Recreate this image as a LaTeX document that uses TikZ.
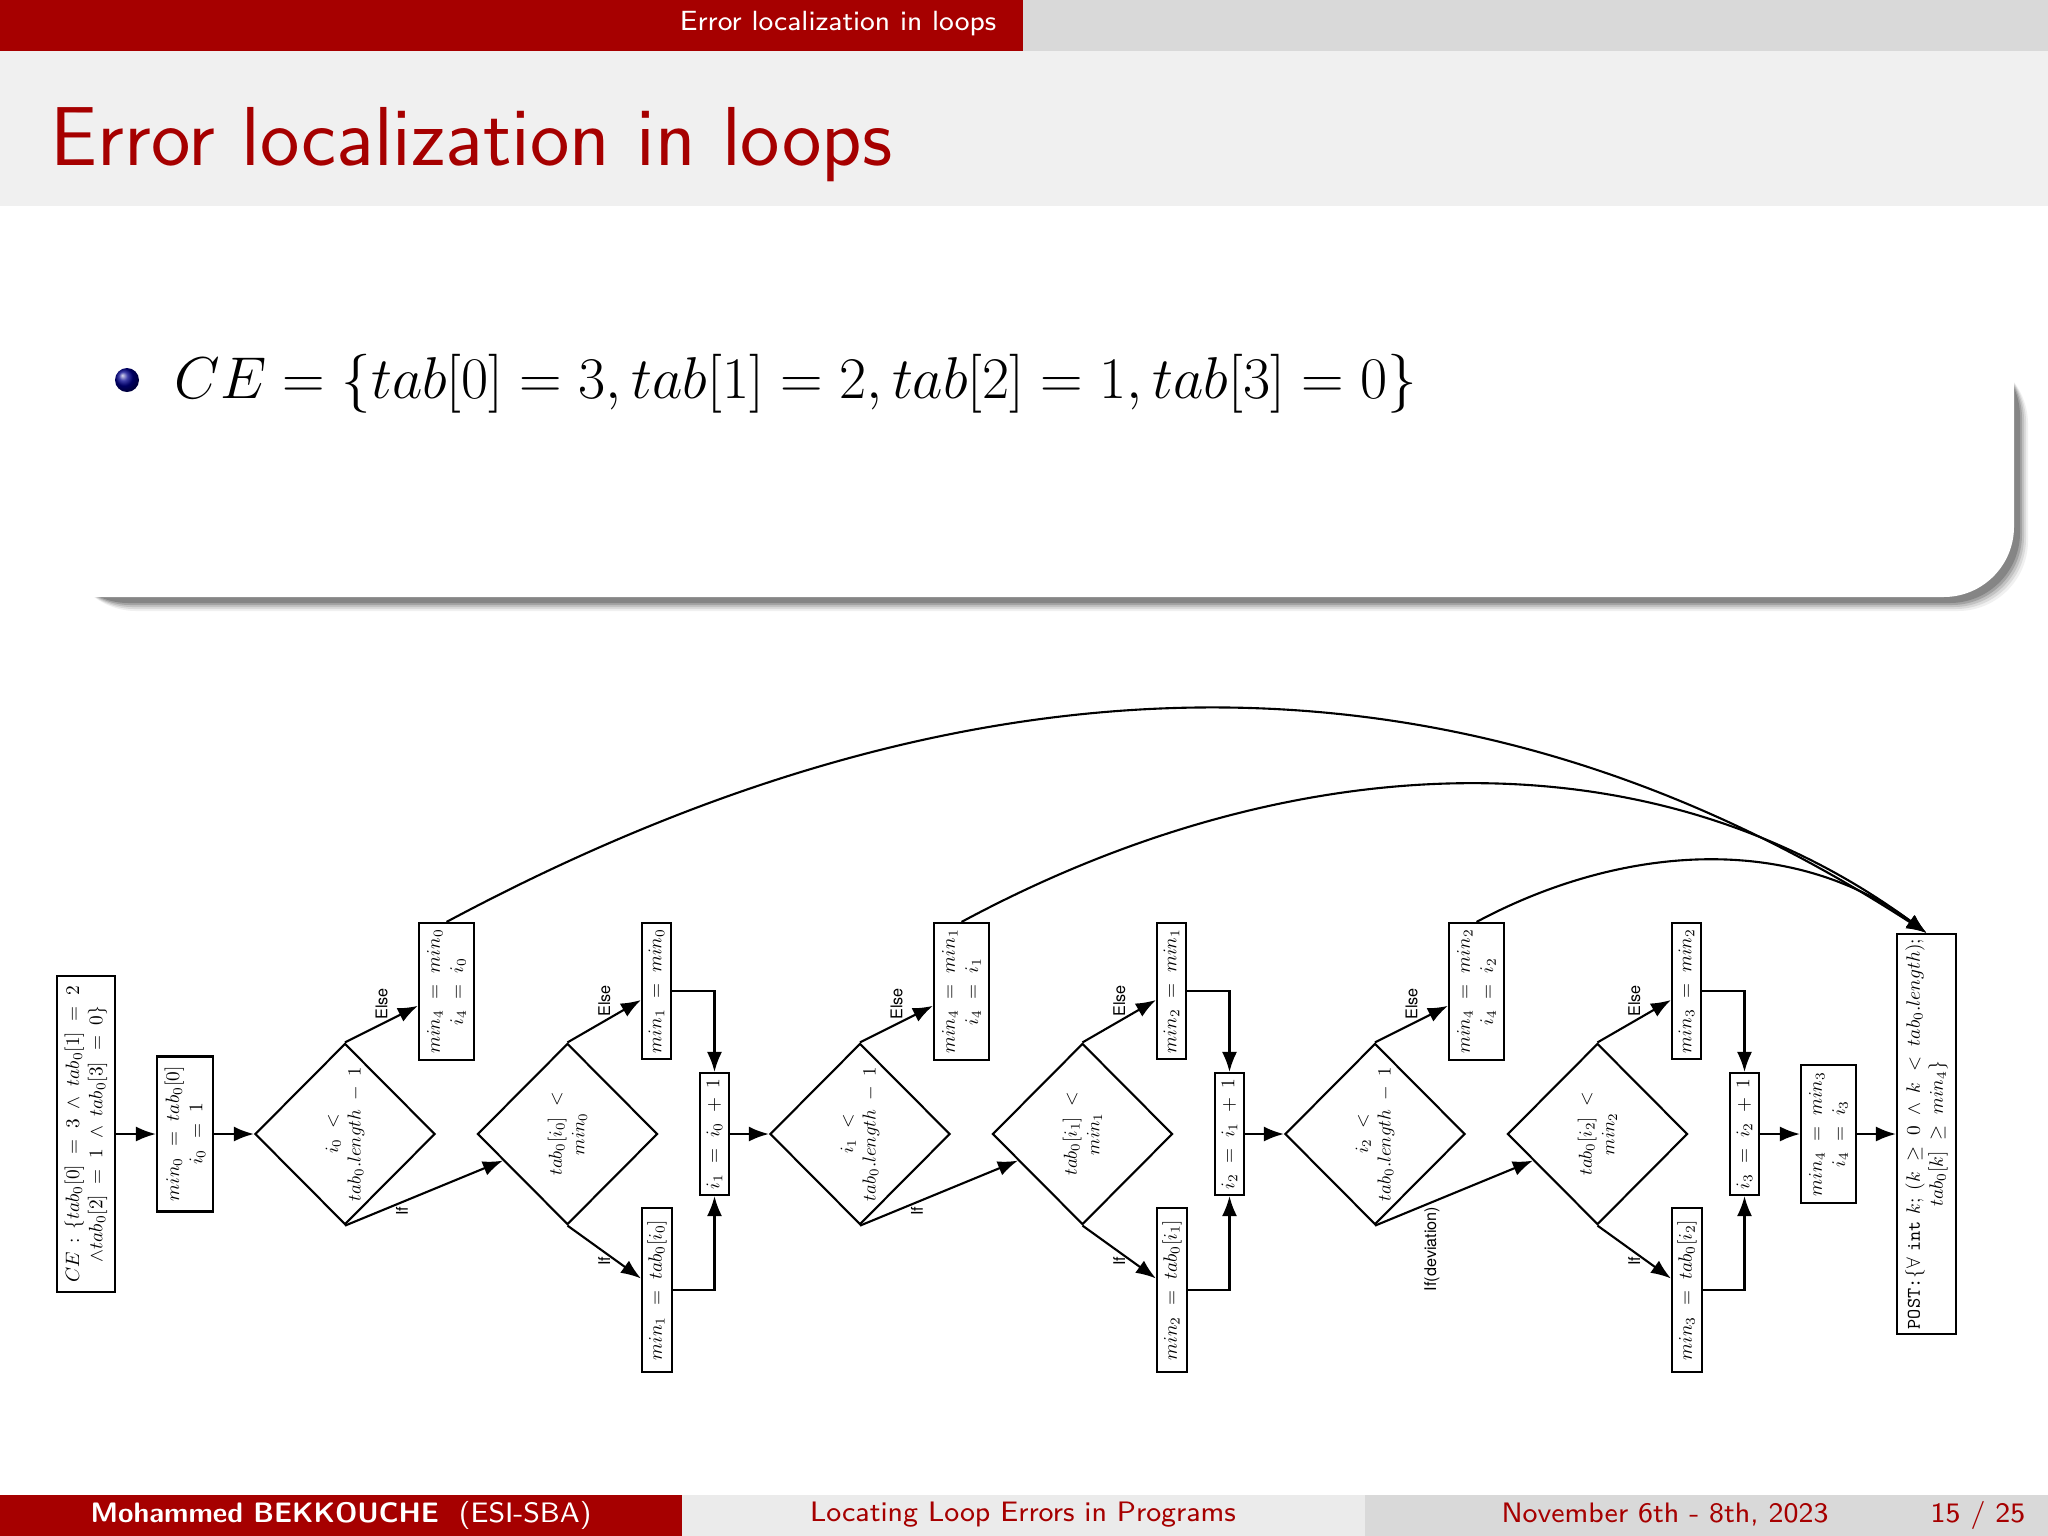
\documentclass[tikz,border=0pt]{standalone}
\usepackage{fontspec}
\usepackage{amsmath,amssymb}
\usetikzlibrary{shapes.geometric,arrows.meta,shadings}
\newfontfamily\lblfont{TeX Gyre Heros}
\definecolor{bred}{RGB}{166,0,0}
\definecolor{hgray}{RGB}{217,217,217}
\definecolor{tgray}{RGB}{240,240,240}
\definecolor{fgray}{RGB}{235,235,235}
\newcommand\rbx[6]{%
  \node[bx,minimum width=#4*0.01cm,minimum height=#5*0.01cm] (#1) at (#2,#3) {};
  \node[btxt] at (#1) {#6};}
\newcommand\rdm[4]{%
  \node[dm] (#1) at (#2,#3) {};
  \node[btxt,scale=0.97] at (#1) {#4};}
\tikzset{
  bx/.style={draw,line width=0.6pt,inner sep=0pt,fill=white},
  btxt/.style={rotate=90,align=center,scale=0.55,font=\normalsize,inner sep=0pt},
  dm/.style={draw,diamond,line width=0.6pt,inner sep=0pt,minimum width=1.8cm,minimum height=1.81cm},
  arr/.style={line width=0.6pt,-{Latex[length=2mm,width=1.5mm]}},
  lbl/.style={rotate=90,font=\lblfont\fontsize{4.6pt}{5pt}\selectfont,inner sep=1pt},
}
\begin{document}
\begin{tikzpicture}[x=0.01cm,y=-0.01cm]
\useasboundingbox (0,0) rectangle (2048,1536);
\fill[white] (0,0) rectangle (2048,1536);
% header
\fill[hgray] (0,0) rectangle (2048,51);
\fill[bred] (0,0) rectangle (1023,51);
\node[text=white,font=\sffamily\fontsize{7.9pt}{9pt}\selectfont] (hd) at (838,24) {Error localization in loops};
\fill[tgray] (0,51) rectangle (2048,206);
\node[anchor=base west,text=bred,font=\sffamily\fontsize{23.8pt}{28pt}\selectfont,inner sep=0] (tt) at (50,165) {Error localization in loops};
% block with shadow
\foreach \o/\c in {14/6,12/14,10/24,8/36,6/48}{
  \fill[black!\c,rounded corners=20] (52+\o,340+\o) rectangle (2014+\o,597+\o);}
\fill[white,rounded corners=20] (0,300) rectangle (2014,597);
\fill[white] (0,300) rectangle (1990,350);
\shade[ball color=blue!55!black] (127,380) circle (12);
\node[anchor=base west,font=\fontsize{18.5pt}{22pt}\selectfont,scale=0.971,inner sep=0] (ce) at (174,398) {$CE = \{tab[0] = 3, tab[1] = 2, tab[2] = 1, tab[3] = 0\}$};
% footer
\fill[bred] (0,1495) rectangle (682,1536);
\fill[fgray] (682,1495) rectangle (1365,1536);
\fill[hgray] (1365,1495) rectangle (2048,1536);
\node[text=white,font=\sffamily\fontsize{8pt}{10pt}\selectfont] (f1) at (341,1515) {\textbf{Mohammed BEKKOUCHE}\ \ (ESI-SBA)};
\node[text=bred,font=\sffamily\fontsize{8pt}{10pt}\selectfont] (f2) at (1023,1515) {Locating Loop Errors in Programs};
\node[text=bred,font=\sffamily\fontsize{8pt}{10pt}\selectfont] (f3) at (1665,1515) {November 6th - 8th, 2023};
\node[text=bred,font=\sffamily\fontsize{8pt}{10pt}\selectfont] (f4) at (1978,1515) {15 / 25};
% diagram
\rbx{ce0}{86}{1134}{58}{316}{$CE\,:\,\{tab_0[0]\;=\;3\;\wedge\;tab_0[1]\;=\;2$\\$\wedge tab_0[2]\;=\;1\;\wedge\;tab_0[3]\;=\;0\}$}
\rbx{init}{185}{1134}{56}{155}{$min_0\;=\;tab_0[0]$\\$i_0\;=\;1$}
\foreach \k/\p/\q [count=\n from 0] in {0/0/1,1/1/2,2/2/3}{
  \pgfmathsetmacro\dx{515*\n}
  \rdm{da\k}{345+\dx}{1134}{$i_\k\;<$\\$tab_0.length\;-\;1$}
  \rbx{el\k}{446.5+\dx}{991.5}{55}{137}{$min_4\;=\;min_\k$\\$i_4\;=\;i_\k$}
  \rdm{db\k}{567.5+\dx}{1134}{$tab_0[i_\k]\;<$\\$min_\k$}
  \rbx{ms\k}{656.5+\dx}{991}{29}{136}{$min_\q\;=\;min_\k$}
  \rbx{mt\k}{657+\dx}{1290}{30}{164}{$min_\q\;=\;tab_0[i_\k]$}
  \rbx{ii\k}{714.5+\dx}{1134}{29}{122}{$i_\q\;=\;i_\k\;+\;1$}
  \draw[arr] (da\k.north) -- node[lbl,anchor=west,pos=.5]{Else} (el\k);
  \draw[arr] (db\k.north) -- node[lbl,anchor=west,pos=.5]{Else} (ms\k);
  \draw[arr] (db\k.south) -- node[lbl,anchor=east,pos=.5]{If} (mt\k);
  \draw[arr] (ms\k.east) -| (ii\k.north);
  \draw[arr] (mt\k.east) -| (ii\k.south);
}
\draw[arr] (da0.south) -- node[lbl,anchor=east,pos=.36]{If} (db0);
\draw[arr] (da1.south) -- node[lbl,anchor=east,pos=.36]{If} (db1);
\draw[arr] (da2.south) -- node[lbl,anchor=east,pos=.36]{If(deviation)} (db2);
\rbx{fin}{1828.5}{1134}{55}{138}{$min_4\;=\;min_3$\\$i_4\;=\;i_3$}
\rbx{post}{1926.5}{1134}{59}{400}{\texttt{POST:}$\{\forall$ \texttt{int} $k;\;(k\;\geq\;0\;\wedge\;k\;<\;tab_0.length);$\\$tab_0[k]\;\geq\;min_4\}$}
\draw[arr] (ce0) -- (init);
\draw[arr] (init) -- (da0);
\draw[arr] (ii0) -- (da1);
\draw[arr] (ii1) -- (da2);
\draw[arr] (ii2) -- (fin);
\draw[arr] (fin) -- (post);
\draw[arr] (el0.north) .. controls (951,652) and (1443,620) .. (post.north);
\draw[arr] (el1.north) .. controls (1290,745) and (1650,729) .. (post.north);
\draw[arr] (el2.north) .. controls (1620,845) and (1790,832) .. (post.north);
\end{tikzpicture}
\end{document}
